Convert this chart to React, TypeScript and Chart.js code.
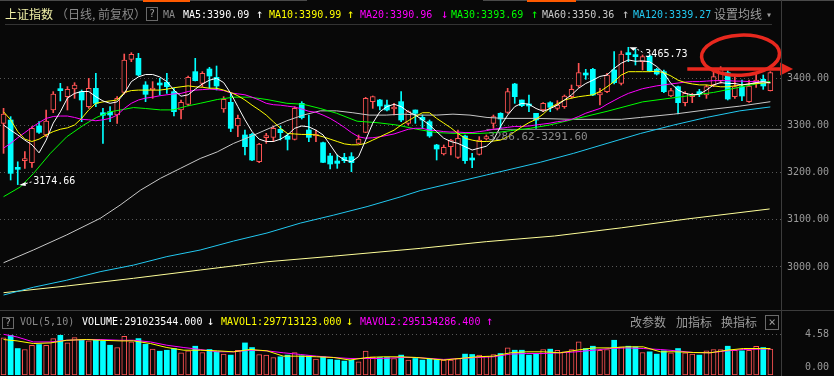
import React, { useEffect, useRef } from 'react';
import { Chart, registerables } from 'chart.js';
Chart.register(...registerables);

// ---------------- data ----------------
const opens = [3304.5,3311.6,3210.5,3225.4,3221.1,3298.9,3279.8,3332.8,3375.9,3361.1,
 3377.3,3371.7,3339.9,3378.7,3327.1,3329.3,3322.2,3370.2,3440.2,3442.3,
 3385.8,3375.2,3389.3,3391.4,3371.7,3332.8,3344.8,3414.1,3389.3,3419.7,
 3402.0,3334.9,3349.1,3298.9,3279.8,3281.2,3223.3,3274.1,3274.8,3291.8,
 3277.7,3270.6,3346.9,3290.4,3277.7,3263.5,3235.3,3224.7,3232.4,3233.9,
 3262.1,3285.4,3350.5,3354.0,3343.4,3334.9,3350.5,3304.5,3332.8,3317.2,
 3308.1,3258.6,3239.5,3255.1,3232.4,3277.7,3230.3,3238.8,3271.3,3304.5,
 3325.7,3327.9,3387.9,3354.0,3344.8,3325.7,3332.8,3348.3,3336.3,3339.9,
 3361.1,3383.7,3409.1,3419.0,3364.6,3371.7,3417.6,3389.3,3452.9,3449.4,
 3435.3,3447.3,3419.0,3414.1,3362.5,3382.3,3348.3,3361.1,3371.7,3364.6,
 3385.8,3395.0,3412.0,3361.1,3382.3,3350.5,3389.3,3397.8,3373.8];
const highs = [3336.3,3318.7,3223.0,3244.5,3297.5,3308.0,3332.8,3371.7,3389.3,3382.3,
 3390.7,3375.2,3399.9,3410.5,3336.3,3339.9,3361.1,3451.5,3454.3,3452.9,
 3392.9,3392.9,3399.9,3410.5,3378.7,3354.0,3404.9,3442.3,3414.1,3423.3,
 3426.1,3361.1,3368.1,3322.2,3290.4,3283.3,3262.1,3283.3,3298.9,3298.9,
 3283.3,3339.9,3350.5,3322.2,3290.4,3264.9,3240.9,3237.4,3240.9,3242.3,
 3279.8,3359.6,3362.5,3355.4,3354.0,3346.9,3371.7,3331.4,3332.8,3322.2,
 3311.6,3260.0,3258.6,3270.6,3290.4,3279.8,3240.9,3276.3,3279.8,3322.2,
 3327.1,3378.7,3389.3,3354.0,3364.6,3325.7,3348.3,3350.5,3352.6,3364.6,
 3385.8,3431.7,3419.0,3421.1,3378.7,3410.5,3456.5,3457.9,3465.73,3461.4,
 3449.4,3449.4,3421.1,3417.6,3378.7,3383.7,3371.7,3368.1,3376.6,3385.8,
 3414.1,3424.7,3416.2,3403.5,3396.4,3396.4,3411.9,3407.0,3414.1];
const lows = [3240.9,3184.4,3174.66,3209.1,3211.2,3283.3,3276.3,3327.1,3351.9,3332.8,
 3357.5,3308.1,3336.3,3339.9,3262.1,3308.1,3304.5,3366.7,3435.3,3404.9,
 3350.5,3357.5,3364.6,3368.1,3320.1,3313.7,3342.0,3394.3,3382.3,3378.7,
 3375.2,3327.9,3286.9,3276.3,3237.4,3225.4,3221.1,3262.1,3265.7,3269.2,
 3248.0,3269.2,3313.7,3265.7,3265.7,3221.1,3207.7,3209.1,3221.1,3202.1,
 3261.4,3284.7,3336.3,3332.8,3330.7,3322.2,3308.1,3301.0,3304.5,3293.9,
 3274.8,3226.8,3237.4,3237.4,3230.3,3219.7,3210.5,3237.4,3269.2,3293.9,
 3293.9,3325.7,3346.9,3339.9,3329.3,3293.9,3329.3,3329.3,3332.8,3336.3,
 3357.5,3380.8,3397.8,3363.2,3343.4,3369.5,3387.9,3385.8,3435.3,3428.2,
 3417.6,3414.1,3407.0,3369.5,3361.1,3324.3,3341.3,3348.3,3361.1,3357.5,
 3382.3,3389.3,3354.0,3357.5,3352.6,3349.1,3380.8,3376.6,3373.1];
const closes = [3324.3,3198.5,3207.0,3228.2,3293.9,3285.4,3309.5,3366.7,3373.8,3376.6,
 3385.8,3354.0,3378.7,3346.9,3321.5,3322.2,3357.5,3438.8,3450.8,3407.0,
 3366.0,3378.7,3385.8,3382.3,3329.3,3349.1,3402.0,3395.0,3410.5,3404.9,
 3383.7,3355.4,3293.9,3315.1,3255.1,3226.8,3260.7,3278.4,3293.9,3284.7,
 3270.6,3336.3,3316.5,3274.8,3281.2,3221.8,3218.3,3219.7,3225.4,3221.1,
 3271.3,3357.5,3361.1,3341.3,3332.8,3337.7,3311.6,3329.3,3325.7,3311.6,
 3277.7,3250.1,3253.6,3269.2,3272.7,3225.4,3226.8,3269.2,3276.3,3318.7,
 3313.7,3371.7,3361.1,3342.0,3341.3,3311.6,3346.9,3338.4,3343.4,3362.5,
 3376.6,3411.9,3407.0,3364.6,3369.5,3407.0,3390.7,3451.5,3450.1,3445.9,
 3445.9,3416.2,3409.1,3371.7,3373.8,3348.3,3368.1,3363.2,3366.7,3382.3,
 3403.5,3419.0,3356.1,3382.3,3362.5,3383.7,3396.4,3383.7,3412.0];
// volume in 1e8 shares
const volumes = [4.17,4.47,2.98,2.87,3.35,3.43,3.35,4.10,4.47,3.61,
 4.21,3.99,3.84,3.91,3.84,3.35,3.09,4.36,3.72,4.10,
 3.46,2.91,2.68,2.79,2.98,2.50,2.72,3.24,2.53,2.87,
 2.61,2.35,2.24,2.79,3.61,3.09,2.31,2.24,1.97,2.05,
 2.24,2.53,2.16,2.16,1.79,2.05,1.75,1.68,1.57,1.68,
 1.49,2.68,2.05,1.97,1.97,1.86,2.24,1.68,1.86,1.68,
 1.86,1.75,1.68,1.68,1.86,2.35,2.31,2.24,2.12,2.31,
 2.42,3.05,2.79,2.79,2.24,2.42,2.87,2.91,2.79,2.61,
 2.87,3.72,2.98,3.24,2.79,2.87,3.91,3.17,3.24,3.17,
 2.53,2.61,2.35,2.72,2.50,2.98,2.50,2.35,2.24,2.72,
 2.87,2.87,3.24,2.79,2.72,2.79,3.24,3.09,2.91];
const ma5 = [3301,3290,3280,3269,3259,3242,3269,3305,3329,3358,
 3368,3372,3372,3361,3352,3347,3350,3368,3393,3403,
 3408,3408,3403,3393,3375,3362,3365,3377,3388,3396,
 3400,3391,3368,3340,3312,3287,3271,3266,3266,3271,
 3280,3294,3299,3297,3290,3280,3259,3237,3227,3223,
 3234,3269,3305,3329,3340,3345,3340,3329,3322,3312,
 3301,3287,3273,3266,3262,3255,3248,3252,3256,3269,
 3298,3322,3340,3347,3345,3336,3330,3336,3343,3354,
 3365,3379,3389,3396,3404,3407,3421,3432,3439,3436,
 3437,3435,3425,3411,3389,3375,3368,3365,3366,3375,
 3386,3391,3389,3389,3386,3388,3391,3393,3390.09];
const ma10 = [3329,3312,3287,3271,3266,3271,3280,3287,3292,3295,
 3301,3315,3333,3347,3350,3352,3354,3370,3374,3375,
 3375,3375,3375,3377,3380,3382,3384,3382,3381,3379,
 3379,3375,3370,3363,3354,3343,3333,3322,3308,3294,
 3283,3282,3281,3281,3280,3276,3271,3266,3261,3259,
 3259,3262,3269,3276,3283,3290,3301,3310,3319,3327,
 3327,3315,3305,3295,3283,3273,3269,3266,3266,3267,
 3269,3276,3287,3297,3306,3313,3324,3338,3346,3354,
 3358,3361,3363,3365,3372,3382,3393,3407,3414,3414,
 3414,3414,3415,3412,3405,3396,3391,3388,3386,3386,
 3384,3382,3382,3384,3386,3388,3389,3390,3390.99];
const ma20 = [3252,3262,3274,3285,3296,3306,3315,3319,3320,3320,
 3317,3313,3312,3310,3312,3315,3322,3336,3347,3354,
 3358,3360,3363,3365,3367,3368,3372,3375,3376,3377,
 3376,3374,3369,3367,3365,3360,3354,3347,3344,3343,
 3341,3339,3335,3330,3328,3322,3315,3306,3296,3285,
 3276,3273,3274,3276,3279,3282,3287,3292,3294,3294,
 3290,3289,3287,3286,3286,3285,3285,3287,3289,3292,
 3294,3296,3298,3298,3299,3301,3303,3305,3308,3310,
 3313,3319,3326,3331,3336,3345,3353,3361,3368,3373,
 3378,3381,3384,3386,3388,3390,3392,3393,3393,3394,
 3395,3395,3395,3394,3394,3393,3393,3392,3390.96];
// [candle index, value]
const ma30 = [[0,3149],[2.4,3170],[4.2,3198],[6.6,3241],[8.9,3276],[11.3,3301],[13.1,3317],[15,3329],[16.9,3334],[18.3,3338],[20,3336],[22.1,3333],[23.9,3333],[25.8,3341],[27.7,3347],[30.1,3355],[32.4,3360],[34.7,3360],[37.1,3355],[39.9,3347],[42.2,3345],[44.6,3336],[46.9,3326],[49.8,3309],[52.6,3306],[55.4,3301],[58.2,3292],[61,3285],[63.8,3283],[66.7,3283],[69.5,3285],[71.4,3289],[74.2,3294],[76.9,3301],[80,3312],[85,3330],[90,3350],[95,3360],[100,3370],[104,3382],[108,3393.69]];
const ma60 = [[0,3009],[4.2,3036],[8.9,3068],[13.6,3103],[16.4,3131],[19.3,3163],[22.1,3188],[24.9,3209],[27.7,3230],[30.1,3244],[32.4,3262],[34.7,3276],[37.6,3295],[39.9,3310],[42.2,3322],[44.6,3331],[46.9,3331],[49.2,3327],[51.5,3322],[53.9,3322],[56.2,3324],[58.6,3322],[61,3322],[63.3,3324],[65.7,3322],[68.1,3317],[70.4,3315],[75.1,3315],[80.3,3313],[87,3313],[89.7,3317],[94.4,3324],[99,3333],[103.7,3341],[108,3350.36]];
const ma120 = [[0,2940.6],[4.2,2957],[8.9,2972],[13.6,2990],[18.3,3004],[23,3022],[27.7,3036],[32.4,3055],[37.1,3072],[41.8,3093],[46.5,3110],[51.2,3128],[56,3149],[58.7,3162],[68,3195],[75.6,3222],[80.3,3241],[85,3262],[89.7,3283],[94.4,3301],[99,3317],[103.7,3331],[108,3339.27]];
const ma250 = [[0,2945.5],[8.9,2959.7],[18.3,2976],[27.7,2993.6],[37.1,3011],[46.5,3023],[58.7,3039.5],[68,3053.7],[77.6,3065.7],[87,3083],[96.4,3102],[107.9,3123]];
const mavol1 = [[0,3.99],[1.9,3.84],[4.2,3.54],[6.6,3.61],[8.9,3.91],[11.7,3.99],[13.6,3.91],[16.4,3.84],[18.3,3.84],[20.7,3.54],[23,3.09],[25.4,2.79],[27.7,2.79],[30.1,2.72],[32.4,2.61],[34.7,2.87],[37.1,2.72],[39.4,2.12],[41.8,2.12],[44.1,2.05],[46.5,1.97],[48.8,1.68],[51.2,1.97],[53.5,2.05],[55.9,2.05],[58.2,1.97],[62,1.68],[66.7,2.05],[69,2.12],[71.4,2.50],[73.7,2.61],[76,2.61],[78.4,2.50],[80.7,2.79],[83.1,3.05],[85.4,3.05],[87.8,3.17],[90.1,3.17],[92.5,2.61],[94.8,2.61],[97.2,2.53],[99.5,2.50],[101.9,2.79],[104.2,2.98],[106.6,2.98],[108,2.98]];
const mavol2 = [[0,4.58],[1.9,4.28],[4.2,3.72],[6.6,3.72],[8.9,3.91],[11.7,3.99],[13.6,3.99],[16.4,3.91],[18.3,3.91],[20.7,3.72],[23,3.35],[25.4,3.09],[27.7,2.87],[30.1,2.61],[32.4,2.61],[34.7,2.79],[37.1,2.72],[39.4,2.50],[41.8,2.31],[44.1,2.12],[46.5,1.97],[48.8,1.86],[51.2,1.86],[53.5,1.86],[55.9,1.97],[58.2,1.97],[62,1.75],[66.7,1.97],[69,2.05],[71.4,2.35],[73.7,2.42],[76,2.42],[78.4,2.50],[80.7,2.61],[83.1,2.79],[85.4,2.98],[87.8,3.05],[90.1,2.98],[92.5,2.87],[94.8,2.72],[97.2,2.53],[99.5,2.50],[101.9,2.72],[104.2,2.87],[106.6,2.91],[108,2.95]];
const priceTicks = [3000, 3100, 3200, 3300, 3400];
const volTicks = [0, 4.58];
const rangeLow = 3286.62;
const rangeHigh = 3291.60;
const rangeStart = 68;

// ---------------- style ----------------
const BG = '#080808';
const UP = '#ff5454';
const DOWN = '#00ffff';
const MONO = '"DejaVu Sans Mono", monospace';
const CJK = '"Noto Sans CJK SC", sans-serif';
const GRID = '#585858';

const idx = closes.map((_, i) => i);
const isUp = (i: number) => closes[i] >= opens[i];
const seq = (arr: number[]) => arr.map((v, i) => ({ x: i, y: v }));
const pr = (arr: number[][]) => arr.map(([x, y]) => ({ x, y }));
const line = (data: any[], color: string) => ({
  type: 'line', data, borderColor: color, borderWidth: 1, pointRadius: 0, tension: 0, order: 1,
});

const marksPlugin = {
  id: 'marks',
  afterDraw(chart: any) {
    const { ctx } = chart;
    const xs = chart.scales.x, ys = chart.scales.y;
    ctx.save();
    ctx.font = `10px ${MONO}`;
    ctx.textAlign = 'left';
    ctx.textBaseline = 'middle';
    ctx.fillStyle = '#ffffff';
    ctx.strokeStyle = '#ffffff';
    ctx.lineWidth = 1;
    // highest point
    let hi = 0;
    highs.forEach((v, i) => { if (v > highs[hi]) hi = i; });
    let px = xs.getPixelForValue(hi), py = ys.getPixelForValue(highs[hi]);
    ctx.beginPath(); ctx.moveTo(px + 1, py); ctx.lineTo(px + 9, py); ctx.lineTo(px + 5, py + 3.5); ctx.closePath(); ctx.fill();
    ctx.setLineDash([2, 2]);
    ctx.beginPath(); ctx.moveTo(px + 9, py + 2); ctx.lineTo(px + 16, py + 6); ctx.stroke();
    ctx.setLineDash([]);
    ctx.fillText(highs[hi].toFixed(2), px + 17, py + 7);
    // lowest point
    let lo = 0;
    lows.forEach((v, i) => { if (v < lows[lo]) lo = i; });
    px = xs.getPixelForValue(lo); py = ys.getPixelForValue(lows[lo]);
    ctx.beginPath(); ctx.moveTo(px + 1.5, py + 0.5); ctx.lineTo(px + 8, py - 2.5); ctx.lineTo(px + 8, py + 1.5); ctx.closePath(); ctx.fill();
    ctx.setLineDash([2, 2]);
    ctx.beginPath(); ctx.moveTo(px + 8, py - 1); ctx.lineTo(px + 15, py - 3); ctx.stroke();
    ctx.setLineDash([]);
    ctx.fillText(lows[lo].toFixed(2), px + 15.5, py - 3.5);
    // range label
    ctx.font = `11px ${MONO}`;
    ctx.fillStyle = '#8c8c8c';
    ctx.fillText(`${rangeLow.toFixed(2)}-${rangeHigh.toFixed(2)}`, xs.getPixelForValue(rangeStart) + 2, ys.getPixelForValue(rangeHigh) + 8);
    // red ellipse + arrow
    const red = '#e8281e';
    ctx.strokeStyle = red;
    ctx.fillStyle = red;
    ctx.lineWidth = 3.5;
    ctx.beginPath();
    ctx.ellipse(xs.getPixelForValue(103.8), ys.getPixelForValue(3449), 39, 20, -0.05, 0, Math.PI * 2);
    ctx.stroke();
    const ay = ys.getPixelForValue(3419.5);
    const ax0 = xs.getPixelForValue(96.3);
    const tip = xs.getPixelForValue(111.2);
    ctx.beginPath(); ctx.moveTo(ax0, ay); ctx.lineTo(tip - 10, ay); ctx.stroke();
    ctx.beginPath(); ctx.moveTo(tip - 13, ay - 6.5); ctx.lineTo(tip, ay); ctx.lineTo(tip - 13, ay + 6.5); ctx.closePath(); ctx.fill();
    ctx.restore();
  },
};

const volLabelPlugin = {
  id: 'volZero',
  afterDraw(chart: any) {
    const { ctx } = chart;
    const ys = chart.scales.y;
    ctx.save();
    ctx.font = `10px ${MONO}`;
    ctx.fillStyle = '#9a9a9a';
    ctx.textAlign = 'right';
    ctx.textBaseline = 'middle';
    ctx.fillText(volTicks[0].toFixed(2), 829, ys.getPixelForValue(volTicks[0]) - 8);
    ctx.restore();
  },
};

const xScale = { type: 'linear', min: -0.5, max: 109.5, display: false, offset: false };
const fitRight = (s: any) => { s.width = 53; s.paddingTop = 0; s.paddingBottom = 0; };

const T = ({ x, y, c, s = 10, cjk = false, children }: any) => (
  <span style={{
    position: 'absolute', left: x, top: y, color: c, fontSize: s, lineHeight: `${s}px`,
    fontFamily: cjk ? CJK : MONO, whiteSpace: 'pre',
  }}>{children}</span>
);

const Box = ({ x, y, w, h, ch, s = 10 }: any) => (
  <div style={{
    position: 'absolute', left: x, top: y, width: w, height: h, boxSizing: 'border-box',
    border: '1px solid #6a6a6a', color: '#a0a0a0', fontFamily: MONO, fontSize: s,
    lineHeight: `${h - 2}px`, textAlign: 'center',
  }}>{ch}</div>
);

const Rect = ({ x, y, w, h, c }: any) => (
  <div style={{ position: 'absolute', left: x, top: y, width: w, height: h, background: c }} />
);

export default function App() {
  const mainRef = useRef<HTMLCanvasElement>(null);
  const volRef = useRef<HTMLCanvasElement>(null);

  useEffect(() => {
    const main = new Chart(mainRef.current as any, {
      type: 'bar',
      data: {
        datasets: [
          line(seq(ma5), '#ffffff'),
          line(seq(ma10), '#ffff00'),
          line(seq(ma20), '#ff00ff'),
          line(pr(ma30), '#00ff00'),
          line(pr(ma60), '#c8c8c8'),
          line(pr(ma120), '#22c8f0'),
          line(pr(ma250), '#ffff99'),
          line([{ x: rangeStart, y: rangeHigh }, { x: 109.5, y: rangeHigh }], '#8a8a8a'),
          {
            type: 'bar',
            data: idx.map((i) => ({ x: i, y: [opens[i], closes[i]] })),
            backgroundColor: (c: any) => (isUp(c.dataIndex) ? BG : DOWN),
            borderColor: (c: any) => (isUp(c.dataIndex) ? UP : DOWN),
            borderWidth: (c: any) => (isUp(c.dataIndex) ? 1 : 0),
            borderSkipped: false,
            barThickness: 5,
            minBarLength: 2,
            grouped: false,
            order: 2,
          },
          {
            type: 'bar',
            data: idx.map((i) => ({ x: i, y: [lows[i], highs[i]] })),
            backgroundColor: (c: any) => (isUp(c.dataIndex) ? UP : DOWN),
            borderWidth: 0,
            barThickness: 1,
            grouped: false,
            order: 3,
          },
        ] as any,
      },
      options: {
        responsive: false,
        animation: false,
        devicePixelRatio: 1,
        events: [],
        layout: { padding: 0, autoPadding: false },
        plugins: { legend: { display: false }, tooltip: { enabled: false } },
        scales: {
          x: xScale as any,
          y: {
            position: 'right',
            min: 2908.8,
            max: 3566,
            afterBuildTicks: (s: any) => { s.ticks = priceTicks.map((v) => ({ value: v })); },
            afterFit: fitRight,
            grid: { color: GRID, drawTicks: false },
            border: { display: false, dash: [1, 3] },
            ticks: {
              color: '#9a9a9a', padding: 6, font: { family: MONO, size: 10 },
              callback: (v: any) => Number(v).toFixed(2),
            },
          },
        },
      },
      plugins: [marksPlugin],
    } as any);

    const vol = new Chart(volRef.current as any, {
      type: 'bar',
      data: {
        datasets: [
          line(pr(mavol1), '#ffff00'),
          line(pr(mavol2), '#ff00ff'),
          {
            type: 'bar',
            data: idx.map((i) => ({ x: i, y: volumes[i] })),
            backgroundColor: (c: any) => (isUp(c.dataIndex) ? BG : DOWN),
            borderColor: (c: any) => (isUp(c.dataIndex) ? UP : DOWN),
            borderWidth: (c: any) => (isUp(c.dataIndex) ? 1 : 0),
            borderSkipped: false,
            barThickness: 5,
            grouped: false,
            order: 2,
          },
        ] as any,
      },
      options: {
        responsive: false,
        animation: false,
        devicePixelRatio: 1,
        events: [],
        layout: { padding: { top: 0, bottom: 1, left: 0, right: 0 }, autoPadding: false },
        plugins: { legend: { display: false }, tooltip: { enabled: false } },
        scales: {
          x: xScale as any,
          y: {
            position: 'right',
            min: 0,
            max: 7.315,
            afterBuildTicks: (s: any) => { s.ticks = [{ value: volTicks[1] }]; },
            afterFit: fitRight,
            grid: { color: GRID, drawTicks: false },
            border: { display: false, dash: [1, 3] },
            ticks: {
              color: '#9a9a9a', padding: 24, font: { family: MONO, size: 10 },
              callback: (v: any) => Number(v).toFixed(2),
            },
          },
        },
      },
      plugins: [volLabelPlugin],
    } as any);

    return () => { main.destroy(); vol.destroy(); };
  }, []);

  const gray = '#8a8a8a';
  const lg = '#9c9c9c';
  return (
    <div style={{ position: 'fixed', left: 0, top: 0, width: 834, height: 376, background: BG, overflow: 'hidden' }}>
      <canvas ref={mainRef} width={834} height={310} style={{ position: 'absolute', left: 0, top: 0, width: 834, height: 310 }} />
      <canvas ref={volRef} width={834} height={66} style={{ position: 'absolute', left: 0, top: 310, width: 834, height: 66 }} />

      {/* frame lines */}
      <Rect x={0} y={0} w={307} h={1} c="#4a4a4a" />
      <Rect x={483} y={0} w={351} h={1} c="#4a4a4a" />
      <Rect x={143} y={0} w={47} h={2} c="#ff5a00" />
      <Rect x={527} y={0} w={49} h={2} c="#ff5a00" />
      <Rect x={5} y={24} w={767} h={1} c="#333333" />
      <Rect x={781} y={0} w={1} h={376} c="#3c3c3c" />
      <Rect x={0} y={310} w={834} h={1} c="#3c3c3c" />

      {/* main header */}
      <T x={5} y={8} c="#f2f2a8" s={12} cjk>上证指数</T>
      <T x={56} y={8} c={gray} s={12} cjk>（日线, 前复权）</T>
      <Box x={146} y={7} w={12} h={14} ch="?" />
      <T x={163} y={10} c={gray}>MA</T>
      <T x={183} y={10} c="#ffffff">MA5:3390.09</T>
      <T x={256} y={8} c="#ffffff" s={12}>↑</T>
      <T x={269} y={10} c="#ffff00">MA10:3390.99</T>
      <T x={347} y={8} c="#ffff00" s={12}>↑</T>
      <T x={360} y={10} c="#ff00ff">MA20:3390.96</T>
      <T x={441} y={8} c="#ff00ff" s={12}>↓</T>
      <T x={451} y={10} c="#00ff00">MA30:3393.69</T>
      <T x={531} y={8} c="#00ff00" s={12}>↑</T>
      <T x={542} y={10} c="#c8c8c8">MA60:3350.36</T>
      <T x={622} y={8} c="#c8c8c8" s={12}>↑</T>
      <T x={633} y={10} c="#22c8f0">MA120:3339.27</T>
      <T x={714} y={8} c={lg} s={12} cjk>设置均线</T>
      <T x={766} y={10} c={lg}>▾</T>

      {/* volume header */}
      <Box x={2} y={317} w={12} h={12} ch="?" />
      <T x={20} y={317} c={gray}>VOL(5,10)</T>
      <T x={82} y={317} c="#ffffff">VOLUME:291023544.000</T>
      <T x={207} y={315} c="#ffffff" s={12}>↓</T>
      <T x={221} y={317} c="#ffff00">MAVOL1:297713123.000</T>
      <T x={346} y={315} c="#ffff00" s={12}>↓</T>
      <T x={360} y={317} c="#ff00ff">MAVOL2:295134286.400</T>
      <T x={486} y={315} c="#ff00ff" s={12}>↑</T>
      <T x={630} y={316} c={lg} s={12} cjk>改参数</T>
      <T x={676} y={316} c={lg} s={12} cjk>加指标</T>
      <T x={721} y={316} c={lg} s={12} cjk>换指标</T>
      <Box x={765} y={315} w={14} h={15} ch="×" s={12} />
    </div>
  );
}
